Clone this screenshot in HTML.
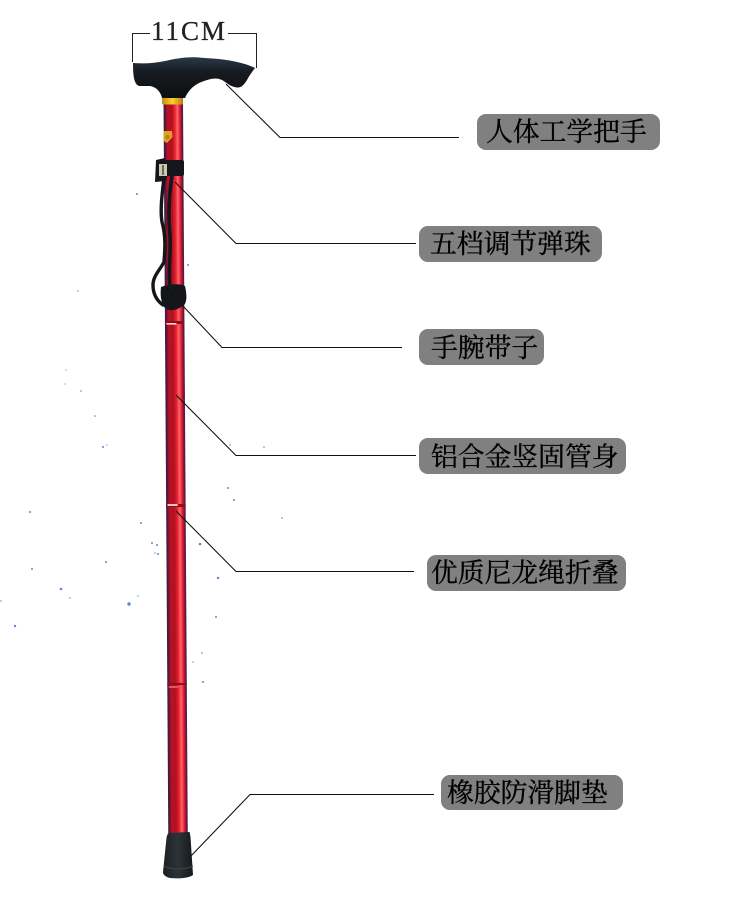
<!DOCTYPE html>
<html><head><meta charset="utf-8">
<style>
html,body{margin:0;padding:0;background:#fff}
svg{display:block}
.l{font-family:"Liberation Serif","Noto Serif CJK SC",serif;font-size:26.800px;fill:#000;stroke:#000;stroke-width:.35px}
</style></head>
<body>
<svg width="750" height="908" viewBox="0 0 750 908" xmlns="http://www.w3.org/2000/svg">
<defs>
<linearGradient id="shaft" x1="0" x2="1" y1="0" y2="0">
<stop offset="0" stop-color="#23235f"/>
<stop offset=".08" stop-color="#6a1030"/>
<stop offset=".18" stop-color="#b01428"/>
<stop offset=".42" stop-color="#b5101f"/>
<stop offset=".58" stop-color="#e8242f"/>
<stop offset=".7" stop-color="#ff6470"/>
<stop offset=".84" stop-color="#dc1c2c"/>
<stop offset=".94" stop-color="#7a1030"/>
<stop offset="1" stop-color="#2a2a70"/>
</linearGradient>
<linearGradient id="gold" x1="0" x2="1" y1="0" y2="0">
<stop offset="0" stop-color="#c88a10"/><stop offset=".5" stop-color="#ffd030"/><stop offset="1" stop-color="#b87a10"/>
</linearGradient>
<linearGradient id="hand" x1="0" x2="0" y1="0" y2="1">
<stop offset="0" stop-color="#2b3846"/><stop offset=".35" stop-color="#171c22"/><stop offset="1" stop-color="#0c0e10"/>
</linearGradient>
<linearGradient id="cap" x1="0" x2="1" y1="0" y2="0">
<stop offset="0" stop-color="#1a2024"/><stop offset=".5" stop-color="#2c3236"/><stop offset="1" stop-color="#15191c"/>
</linearGradient>
</defs>

<g fill="#5f84d8">
<circle cx="78" cy="291" r=".7"/><circle cx="66" cy="370" r=".6"/><circle cx="65" cy="384" r=".6"/><circle cx="81" cy="391" r=".8"/><circle cx="95" cy="416" r=".8"/><circle cx="103" cy="447" r="1"/><circle cx="107" cy="445" r=".6"/>
<circle cx="30" cy="512" r="1"/><circle cx="141" cy="523" r="1"/><circle cx="152" cy="543" r="1"/><circle cx="158" cy="554" r="1"/><circle cx="106" cy="562" r="1"/><circle cx="32" cy="569" r="1"/><circle cx="61" cy="589" r="1.300"/><circle cx="129" cy="604" r="1.700"/><circle cx="70" cy="598" r=".7"/><circle cx="15" cy="626" r="1.200"/><circle cx="1" cy="601" r=".7"/><circle cx="138" cy="596" r=".7"/>
<circle cx="157" cy="545" r="1"/><circle cx="155" cy="553" r=".7"/>
<circle cx="228" cy="488" r="1"/><circle cx="234" cy="500" r="1"/><circle cx="200" cy="544" r="1.300"/><circle cx="218" cy="578" r="1.200"/><circle cx="216" cy="617" r="1"/><circle cx="202" cy="653" r=".8"/><circle cx="193" cy="662" r=".7"/><circle cx="203" cy="682" r="1"/>
<circle cx="137" cy="194" r="1"/><circle cx="188" cy="265" r="1"/><circle cx="264" cy="447" r=".8"/><circle cx="282" cy="518" r=".8"/><circle cx="230" cy="445" r=".7"/>
</g>

<!-- shaft -->
<g transform="matrix(1,0,0.0065,1,-0.65,0)">
<rect x="163.500" y="98" width="19.500" height="740" fill="url(#shaft)"/>
<rect x="163.500" y="321" width="19.500" height="3" fill="#8a0f20"/>
<rect x="165" y="323" width="10" height="1.600" fill="#ffd0d0"/>
<rect x="163.500" y="504" width="19.500" height="3" fill="#8a0f20"/>
<rect x="165" y="504" width="10" height="2" fill="#ffc0c8"/>
<rect x="163.500" y="683" width="19.500" height="2" fill="#8a0f20"/>
<rect x="165" y="686" width="10" height="2" fill="#e85060"/>
</g>

<!-- badge -->
<path d="M163.500 131 L172 131 L172.500 137 L167 143 L163.500 141Z" fill="#d9a520"/>
<circle cx="167.500" cy="137" r="2.200" fill="#b8801a"/>

<!-- gold band -->
<rect x="162" y="98" width="21" height="6.500" rx="1" fill="url(#gold)"/>

<!-- handle -->
<path d="M133 63 C145 64 155 63 165 61 C178 58 190 56 205 58 C225 59 243 62 255 68 C252 72 249 76 247 80 C244 85 241 88 237 87.500 C231 87 227 83 222 80 C216 77 210 79 204 81 C195 84 189 89 185 98 L162 98 C161 93 157 87 150 86 L139 86 C134 84 133 76 133 63Z" fill="url(#hand)"/>

<!-- cord -->
<g fill="none" stroke="#14161c" stroke-linecap="round">
<path d="M164 178 C162 195 160 210 162 222 C166 236 165 250 164 262 C160 270 153 276 153 285 C153 293 156 300 163 305" stroke-width="3.400"/>
<path d="M172 176 C169 195 168 215 170 235 C171 255 168 270 170 285" stroke-width="3.600"/>
</g>

<!-- upper strap -->
<rect x="163" y="160" width="21" height="16" rx="2" fill="#15171c"/>
<path d="M156 160 L165 158 L167 176 L166 181 L155 182Z" fill="#14161c"/>
<rect x="159" y="164" width="8" height="12" fill="#cfc8b0"/>
<rect x="162" y="165" width="2" height="10" fill="#6d6a5e"/>

<!-- lower pouch -->
<path d="M161 287 C168 284 180 283 185 286 C187 295 187 302 184 305 C178 310 170 312 165 308 C161 303 160 295 161 287Z" fill="#14161a"/>

<!-- rubber tip -->
<path d="M169 833 L189 832 C190 832 190 834 190.500 837 L193 875 C189 878 180 879 170 878 C166 877 163 875 163 872 L166.500 838 C167 835 168 833 169 833Z" fill="url(#cap)"/>
<path d="M164 866 C172 870 184 870 193 866" fill="none" stroke="#3a484c" stroke-width="1"/>

<!-- bracket -->
<g fill="none" stroke="#222" stroke-width="1">
<path d="M132.500 62 V33.500 H150"/>
<path d="M228 33.500 H256.500 V68"/>
</g>
<text x="151" y="40" font-family="'Liberation Serif',serif" font-size="27" letter-spacing="2" fill="#222" stroke="#222" stroke-width=".3">11CM</text>

<!-- leader lines -->
<g fill="none" stroke="#111" stroke-width="1.100">
<path d="M226 84 L280 137.500 H459"/>
<path d="M175 182 L236 243.500 H416"/>
<path d="M166 288 L222 347.500 H402"/>
<path d="M176 395 L236 455.500 H416"/>
<path d="M176 511 L236 571.500 H414"/>
<path d="M190 857 L250 794.500 H434"/>
</g>

<!-- labels -->
<rect x="477" y="114" width="183" height="36" rx="9" fill="#808080"/>
<text class="l" x="486" y="141">人体工学把手</text>
<rect x="419" y="226" width="183" height="36" rx="9" fill="#808080"/>
<text class="l" x="430" y="253">五档调节弹珠</text>
<rect x="419" y="329" width="125" height="36" rx="9" fill="#808080"/>
<text class="l" x="431" y="357">手腕带子</text>
<rect x="419" y="438" width="207" height="36" rx="9" fill="#808080"/>
<text class="l" x="431" y="466">铝合金竖固管身</text>
<rect x="427" y="555" width="199" height="36" rx="9" fill="#808080"/>
<text class="l" x="431" y="582">优质尼龙绳折叠</text>
<rect x="441" y="775" width="182" height="35" rx="9" fill="#808080"/>
<text class="l" x="447" y="802">橡胶防滑脚垫</text>
</svg>
</body></html>
